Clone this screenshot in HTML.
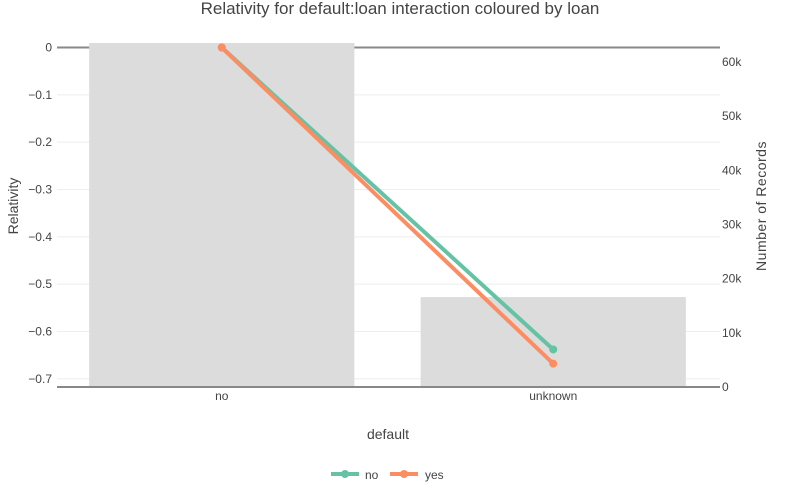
<!DOCTYPE html>
<html><head><meta charset="utf-8"><style>
body{margin:0;background:#fff;}
svg{display:block;font-family:"Liberation Sans",sans-serif;}
</style></head><body>
<svg id="chart" width="800" height="500">
<text x="400" y="14" text-anchor="middle" font-size="17" fill="#444">Relativity for default:loan interaction coloured by loan</text>
<g id="grid"></g><g id="bars"></g><g id="axes"></g><g id="lines"></g>
<text transform="translate(18,206) rotate(-90)" text-anchor="middle" font-size="14" fill="#444">Relativity</text>
<text transform="translate(766,206) rotate(-90)" text-anchor="middle" font-size="14" letter-spacing="0.5" fill="#444">Number of Records</text>
<text x="388" y="439" text-anchor="middle" font-size="14" fill="#444">default</text>
<g>
<g><line x1="331" y1="474" x2="359" y2="474" stroke="#66c2a5" stroke-width="4"/><circle cx="345" cy="474" r="4" fill="#66c2a5"/><text x="365" y="479" font-size="12" fill="#444">no</text></g>
<g><line x1="390" y1="474" x2="418" y2="474" stroke="#fc8d62" stroke-width="4"/><circle cx="404" cy="474" r="4" fill="#fc8d62"/><text x="425" y="479" font-size="12" fill="#444">yes</text></g>
</g>
</svg>
<script>
const categories=["no","unknown"];
const counts=[63500,16600];
const seriesNames=["no","yes"];
const seriesNo=[0,-0.638];
const seriesYes=[0,-0.668];
const yTicks=[0,-0.1,-0.2,-0.3,-0.4,-0.5,-0.6,-0.7];
const y2Ticks=[0,10000,20000,30000,40000,50000,60000];
const y2Labels=["0","10k","20k","30k","40k","50k","60k"];

const NS="http://www.w3.org/2000/svg";
const X0=57,X1=720;
const y=v=>47.5+(0-v)*473.3;
const y2=v=>387-v*0.005417;
const band=(X1-X0)/categories.length;
const xc=i=>X0+band*(i+0.5)-1;
function mk(p,tag,a){const e=document.createElementNS(NS,tag);for(const k in a)e.setAttribute(k,a[k]);document.getElementById(p).appendChild(e);return e;}
yTicks.forEach((t,i)=>{
  if(t!==0){const l=mk('grid','line',{x1:X0,x2:X1,y1:y(t),y2:y(t),stroke:'#eee','stroke-width':1});
  
  }
  const tx=mk('axes','text',{x:52,y:y(t)+4,'text-anchor':'end','font-size':12,fill:'#444'});
  tx.textContent=t===0?'0':'\u2212'+Math.abs(t).toFixed(1);
  
  
});
y2Ticks.forEach((t,i)=>{
  const tx=mk('axes','text',{x:722,y:y2(t)+4,'font-size':12,fill:'#444'});
  tx.textContent=y2Labels[i];
  
  
});
mk('grid','line',{x1:X0,x2:X1,y1:y(0),y2:y(0),stroke:'#888','stroke-width':2});
categories.forEach((c,i)=>{
  const w=band*0.8;
  const b=mk('bars','rect',{x:xc(i)-w/2,y:y2(counts[i]),width:w,height:387-y2(counts[i]),fill:'#dcdcdc'});
  
  
  const tx=mk('axes','text',{x:xc(i),y:400,'text-anchor':'middle','font-size':12,fill:'#444'});
  tx.textContent=c;
  
  
});
mk('axes','line',{x1:X0,x2:X1,y1:387,y2:387,stroke:'#888','stroke-width':2});
[[seriesNo,'#66c2a5'],[seriesYes,'#fc8d62']].forEach(([s,col],k)=>{
  const pts=s.map((v,i)=>xc(i)+','+y(v)).join(' ');
  const pl=mk('lines','polyline',{points:pts,fill:'none',stroke:col,'stroke-width':4});
  
  
  s.forEach((v,i)=>{const c=mk('lines','circle',{cx:xc(i),cy:y(v),r:4,fill:col});
  
  });
});
</script>
</body></html>
